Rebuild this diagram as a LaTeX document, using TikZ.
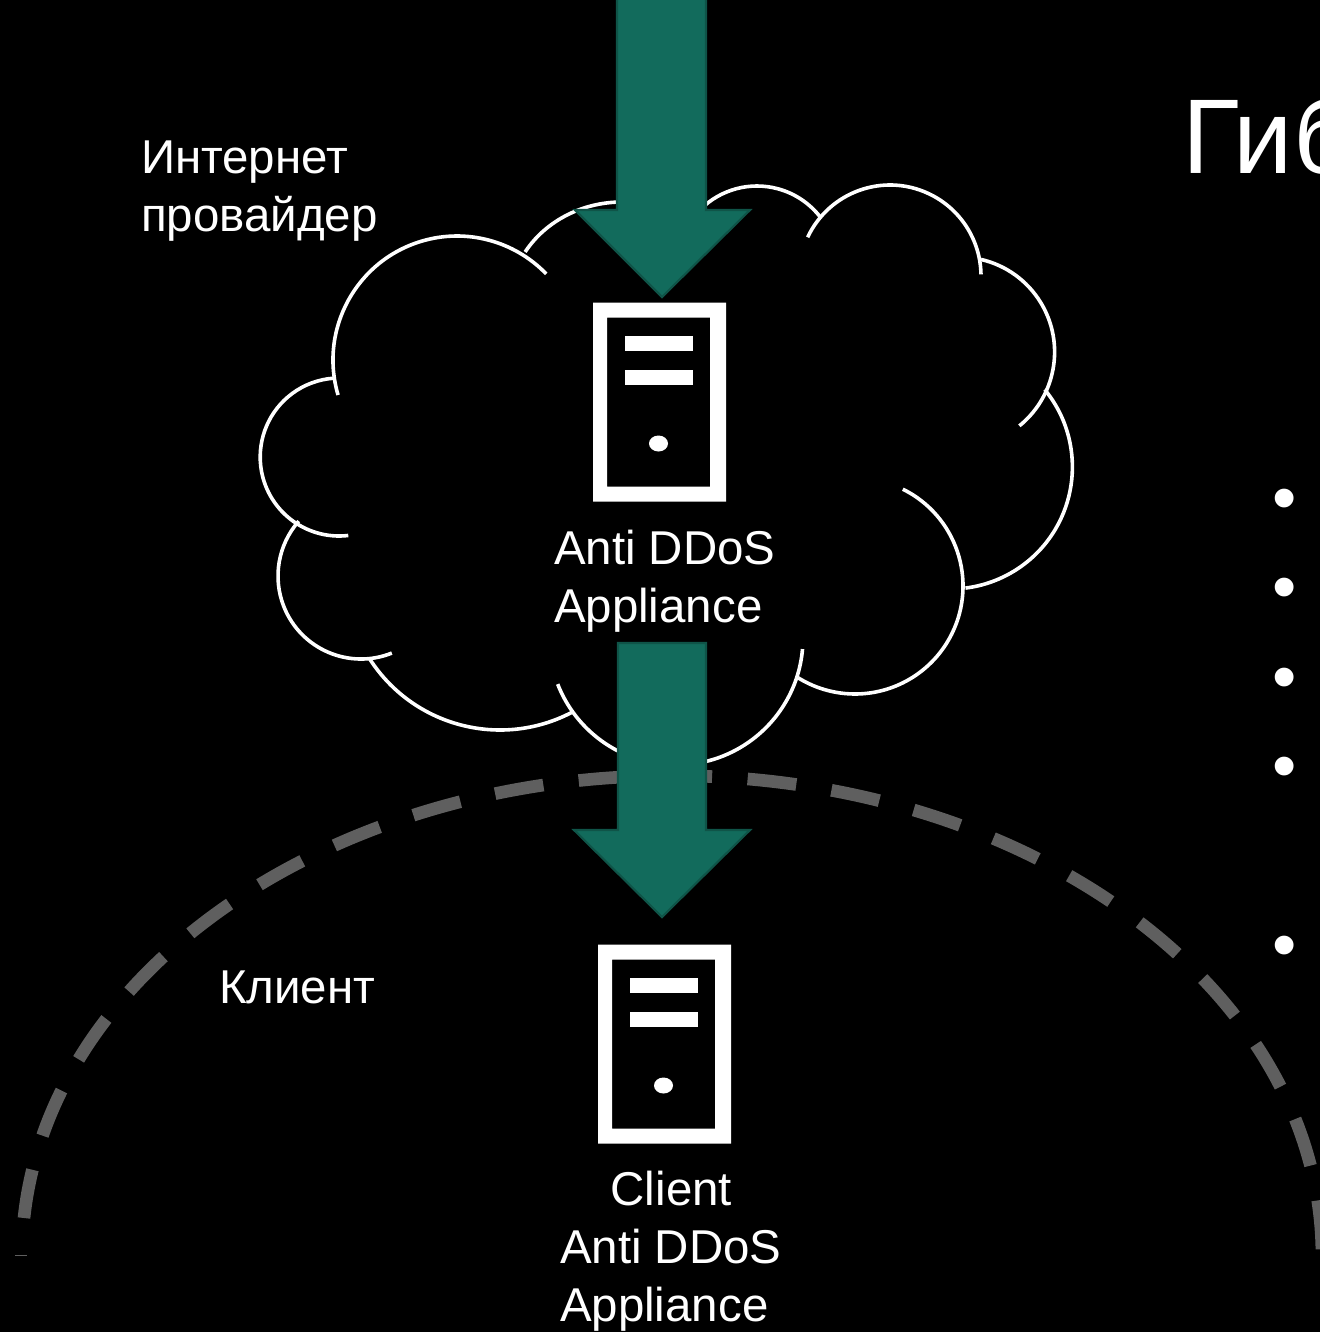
\documentclass[tikz,border=0pt]{standalone}
\usepackage{fontspec}
\setmainfont{Liberation Sans}
\definecolor{arrowfill}{HTML}{126B5C}
\definecolor{arrowedge}{HTML}{0F5448}
\definecolor{dashgrey}{HTML}{5F5F5F}
\tikzset{
  lbl/.style={text=white,inner sep=0pt,outer sep=0pt,align=left,anchor=base west,font=\fontsize{35.6pt}{43.2pt}\selectfont},
  bigarrow/.style={fill=arrowfill,draw=arrowedge,line width=1.6pt,line join=miter},
  cloudline/.style={draw=white,line width=2.7pt,line cap=butt},
  zone/.style={draw=dashgrey,line width=9.5pt,dash pattern=on 36.75pt off 26.7pt},
  pics/servericon/.style={code={
    \fill[white,even odd rule] (0,0) rectangle (133,199) (14,15) rectangle (117,184);
    \fill[white] (32,33.5) rectangle (100,48.5);
    \fill[white] (32,67.5) rectangle (100,82.5);
    \fill[white] (65.5,141) ellipse [x radius=9.5,y radius=8];
  }}
}
% centre x, centre y, x radius, y radius, start angle, end angle
\newcommand\cloudlobe[6]{\draw[cloudline] ([shift={(#5:#3 and #4)}]#1,#2) arc[start angle=#5,end angle=#6,x radius=#3,y radius=#4];}
\begin{document}
\begin{tikzpicture}[x=0.75pt,y=-0.75pt]
\useasboundingbox (0,0) rectangle (1320,1332);
\fill[black] (0,0) rectangle (1320,1332);
\clip (0,0) rectangle (1320,1332);

% cloud lobes
\cloudlobe{457}{360}{124}{124}{163.6}{316}
\cloudlobe{622}{305}{113}{103}{211}{280}
\cloudlobe{757}{266}{80}{80}{225}{322.6}
\cloudlobe{890}{276}{91}{91}{205.2}{359}
\cloudlobe{959.6}{352}{95}{95}{283}{411}
\cloudlobe{950.4}{467}{122}{122}{-39.4}{82.9}
\cloudlobe{855}{586}{108}{108}{-63.7}{121.8}
\cloudlobe{676}{638}{127}{127}{5}{158.7}
\cloudlobe{500}{575}{155}{155}{62.4}{147.4}
\cloudlobe{361}{576}{83}{83}{68.2}{221.4}
\cloudlobe{339.2}{457}{79}{79}{83.4}{265.7}

% client zone
\draw[zone] (24,1218) arc[start angle=184.5,end angle=360,x radius=650,y radius=480];
\draw[dashgrey,line width=0.9pt] (15,1255.5) -- (27,1255.5);

% arrows
\draw[bigarrow] (617,-5) -- (617,210) -- (575,210) -- (662,297) -- (750,210) -- (706,210) -- (706,-5) -- cycle;
\draw[bigarrow] (618,643) -- (618,830) -- (574,830) -- (662,917) -- (750,830) -- (706,830) -- (706,643) -- cycle;

% server icons
\pic at (593,302.5) {servericon};
\pic at (598,944.5) {servericon};

% labels
\node[lbl] (isp) at (141,231) {Интернет\\провайдер};
\node[lbl] (app) at (554,622) {Anti DDoS\\Appliance};
\node[lbl] (cli) at (219,1003) {Клиент};
\node[lbl] (capp) at (560,1321) {\hspace*{38pt}Client\\Anti DDoS\\Appliance};
\node[text=white,inner sep=0pt,anchor=base west,font=\fontsize{79.6pt}{96pt}\selectfont] (title) at (1182,173) {Гиб};

% bullets
\foreach \y [count=\i] in {505,594,684,773,952}
  \node[text=white,inner sep=0pt,anchor=center,font=\fontsize{52pt}{60pt}\selectfont] (b\i) at (1285,\y) {•};
\end{tikzpicture}
\end{document}
